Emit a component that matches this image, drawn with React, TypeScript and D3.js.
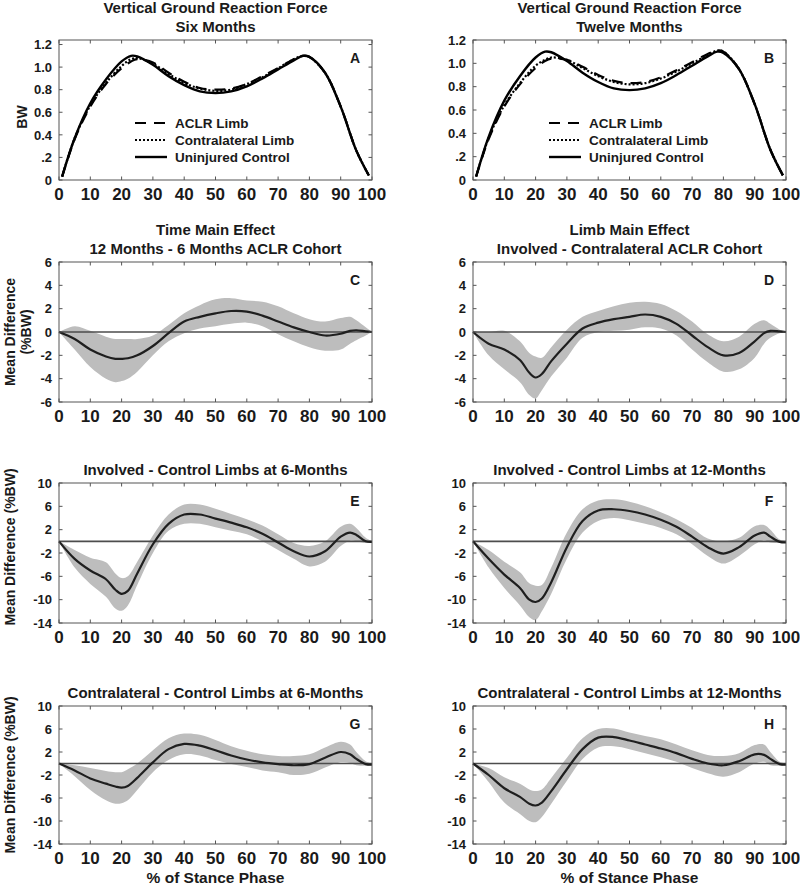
import React from 'react';
import * as d3 from 'd3';

const FONT = '"Liberation Sans", Arial, Helvetica, sans-serif';
const INK = '#1a1a1a';
const BOX = '#555555';

// ---- vertical GRF (BW), sampled along % of stance ----
const grfStance = [1, 5, 10, 15, 20, 23, 25, 30, 35, 40, 45, 50, 55, 60, 65, 70, 75, 78, 80, 85, 90, 95, 99];

const grfSixAclr = [0.03, 0.36, 0.65, 0.85, 0.99, 1.05, 1.07, 1.04, 0.95, 0.87, 0.815, 0.8, 0.81, 0.85, 0.92, 0.99, 1.07, 1.1, 1.09, 0.95, 0.65, 0.26, 0.04];
const grfSixContra = [0.03, 0.37, 0.66, 0.86, 1.01, 1.07, 1.08, 1.03, 0.94, 0.86, 0.81, 0.79, 0.8, 0.85, 0.91, 0.99, 1.07, 1.1, 1.09, 0.95, 0.65, 0.26, 0.04];
const grfSixControl = [0.03, 0.37, 0.68, 0.89, 1.05, 1.1, 1.095, 1.02, 0.92, 0.84, 0.785, 0.77, 0.785, 0.83, 0.9, 0.98, 1.06, 1.1, 1.09, 0.95, 0.65, 0.26, 0.04];

const grfTwelveAclr = [0.03, 0.35, 0.63, 0.82, 0.96, 1.02, 1.04, 1.03, 0.97, 0.9, 0.85, 0.83, 0.84, 0.88, 0.94, 1.01, 1.08, 1.11, 1.1, 0.95, 0.65, 0.26, 0.04];
const grfTwelveContra = [0.03, 0.36, 0.64, 0.83, 0.98, 1.03, 1.05, 1.03, 0.96, 0.89, 0.84, 0.82, 0.83, 0.87, 0.93, 1.0, 1.07, 1.11, 1.1, 0.95, 0.65, 0.26, 0.04];
const grfTwelveControl = [0.03, 0.37, 0.68, 0.89, 1.05, 1.1, 1.095, 1.02, 0.92, 0.84, 0.785, 0.77, 0.785, 0.83, 0.9, 0.98, 1.06, 1.1, 1.09, 0.95, 0.65, 0.26, 0.04];

// ---- mean differences (%BW) with confidence bands ----
const diffStance = [0, 5, 10, 15, 18, 20, 22, 25, 30, 35, 40, 45, 50, 55, 60, 65, 70, 75, 80, 85, 90, 93, 95, 98, 100];

const timeMean = [0, -0.6, -1.5, -2.1, -2.3, -2.3, -2.25, -2.0, -1.2, -0.1, 0.9, 1.3, 1.6, 1.8, 1.75, 1.4, 0.9, 0.4, 0.0, -0.3, -0.15, 0.1, 0.15, 0.05, 0];
const timeUpper = [0, 0.5, 0.1, -0.4, -0.6, -0.6, -0.6, -0.6, -0.3, 0.6, 1.6, 2.3, 2.8, 2.9, 2.7, 2.6, 2.2, 1.6, 1.1, 0.9, 1.2, 1.3, 1.0, 0.4, 0];
const timeLower = [0, -1.5, -3.0, -4.0, -4.3, -4.2, -4.0, -3.4, -2.0, -0.8, -0.1, 0.3, 0.5, 0.7, 0.8, 0.5, -0.2, -0.8, -1.3, -1.6, -1.5, -1.0, -0.7, -0.3, 0];

const limbMean = [0, -1.0, -1.5, -2.4, -3.5, -3.9, -3.6, -2.5, -1.0, 0.3, 0.8, 1.1, 1.3, 1.5, 1.3, 0.7, -0.3, -1.3, -2.0, -1.8, -0.8, -0.1, 0.1, 0.05, 0];
const limbUpper = [0, 0, 0.1, -0.8, -1.8, -2.1, -2.2, -1.3, 0.2, 1.3, 1.8, 2.2, 2.5, 2.6, 2.4, 1.8, 0.9, -0.2, -0.8, -0.4, 0.7, 1.0, 0.7, 0.2, 0];
const limbLower = [0, -2.0, -3.2, -4.3, -5.4, -5.7, -5.0, -3.8, -2.2, -0.5, 0.0, 0.1, 0.2, 0.4, 0.3, -0.3, -1.5, -2.6, -3.4, -3.2, -2.2, -1.0, -0.5, -0.1, 0];

const invSixMean = [0, -3.0, -5.0, -6.5, -8.3, -9.0, -8.5, -5.5, -0.5, 3.0, 4.6, 4.6, 3.9, 3.2, 2.4, 1.3, -0.2, -1.7, -2.6, -1.7, 0.8, 1.5, 1.1, 0.0, -0.1];
const invSixUpper = [0, -1.5, -2.8, -3.6, -5.5, -6.3, -6.0, -3.5, 1.0, 4.6, 6.3, 6.3, 5.6, 4.7, 3.8, 2.7, 1.2, -0.3, -0.8, 0.0, 2.5, 3.0, 2.3, 0.6, 0];
const invSixLower = [0, -4.5, -7.3, -9.5, -11.5, -11.9, -11.0, -7.5, -2.0, 1.8, 3.0, 3.0, 2.4, 1.8, 1.2, 0.0, -1.5, -3.0, -4.3, -3.5, -0.8, 0.1, 0.0, -0.3, -0.2];

const invTwelveMean = [0, -3.0, -5.7, -8.0, -10.0, -10.4, -9.8, -7.0, -1.0, 3.5, 5.3, 5.5, 5.2, 4.6, 3.7, 2.5, 0.8, -1.0, -2.1, -1.0, 1.0, 1.5, 0.8, -0.1, -0.2];
const invTwelveUpper = [0, -1.5, -3.5, -5.3, -7.2, -7.6, -7.5, -4.5, 1.5, 5.5, 7.0, 7.2, 6.8, 6.0, 5.0, 3.8, 2.3, 0.5, 0.0, 0.6, 2.6, 2.8, 2.0, 0.3, 0];
const invTwelveLower = [0, -4.5, -8.0, -11.0, -13.0, -13.5, -12.0, -9.0, -3.0, 1.5, 3.5, 4.0, 3.6, 3.0, 2.3, 1.2, -0.5, -2.5, -3.8, -2.5, -0.5, 0.2, -0.2, -0.3, -0.3];

const conSixMean = [0, -1.2, -2.6, -3.5, -4.0, -4.2, -3.9, -2.5, 0.2, 2.5, 3.4, 3.1, 2.3, 1.4, 0.7, 0.2, -0.1, -0.3, -0.1, 1.0, 2.0, 1.6, 0.8, -0.1, -0.2];
const conSixUpper = [0, -0.3, -0.8, -1.3, -1.5, -1.5, -1.0, 0.0, 2.3, 4.4, 5.2, 5.0, 4.1, 3.0, 2.2, 1.6, 1.3, 1.3, 1.6, 2.8, 3.8, 3.3, 2.0, 0.4, 0];
const conSixLower = [0, -2.2, -4.6, -6.4, -7.0, -6.9, -6.4, -4.6, -1.5, 0.6, 1.6, 1.4, 0.6, -0.1, -0.6, -1.2, -1.5, -2.0, -1.8, -0.7, 0.2, 0.1, -0.3, -0.4, -0.3];

const conTwelveMean = [0, -2.0, -4.3, -5.8, -7.0, -7.3, -6.8, -4.8, -1.0, 2.5, 4.5, 4.6, 4.0, 3.3, 2.6, 1.8, 0.8, 0.0, -0.3, 0.4, 1.6, 1.5, 0.8, -0.1, -0.2];
const conTwelveUpper = [0, -0.8, -2.4, -3.5, -4.5, -4.8, -4.5, -2.5, 1.0, 4.4, 6.0, 6.1, 5.4, 4.8, 4.2, 3.3, 2.3, 1.5, 1.3, 1.8, 3.2, 3.3, 2.0, 0.3, 0];
const conTwelveLower = [0, -3.2, -6.8, -8.8, -10.0, -10.2, -9.3, -7.0, -3.0, 0.8, 2.8, 3.0, 2.5, 1.8, 1.1, 0.3, -0.8, -1.7, -2.3, -1.5, 0.0, 0.3, -0.3, -0.4, -0.3];

// ---- ticks ----
const stanceTicks = [0, 10, 20, 30, 40, 50, 60, 70, 80, 90, 100];
const grfTicks = [0, 0.2, 0.4, 0.6, 0.8, 1.0, 1.2];
const grfTickLabels = ['0', '.2', '0.4', '0.6', '0.8', '1.0', '1.2'];
const mainEffectTicks = [-6, -4, -2, 0, 2, 4, 6];
const limbDiffTicks = [-14, -10, -6, -2, 2, 6, 10];

const legendNames = ['ACLR Limb', 'Contralateral Limb', 'Uninjured Control'];

const columns = [
  { left: 59, right: 372 },
  { left: 473, right: 786 },
];
const rows = [
  { top: 40, bottom: 180 },
  { top: 262, bottom: 402 },
  { top: 483, bottom: 623 },
  { top: 706, bottom: 844 },
];

type Frame = { left: number; right: number; top: number; bottom: number };

const smooth = d3.curveCatmullRom.alpha(0.5);

const Axes = ({ f, x, y, yTicks, yTickLabels, letter, title, xLabel }: any) => {
  const tick = 3.5;
  return (
    <g>
      <rect x={f.left} y={f.top} width={f.right - f.left} height={f.bottom - f.top}
        fill="none" stroke={BOX} strokeWidth={1} />
      {stanceTicks.map((t) => (
        <g key={'x' + t}>
          <line x1={x(t)} x2={x(t)} y1={f.bottom} y2={f.bottom - tick} stroke={BOX} />
          <line x1={x(t)} x2={x(t)} y1={f.top} y2={f.top + tick} stroke={BOX} />
          <text x={x(t)} y={f.bottom + 20} textAnchor="middle" fontSize={17} fontWeight="bold" fill={INK}>{t}</text>
        </g>
      ))}
      {yTicks.map((t: number, i: number) => (
        <g key={'y' + t}>
          <line x1={f.left} x2={f.left + tick} y1={y(t)} y2={y(t)} stroke={BOX} />
          <line x1={f.right} x2={f.right - tick} y1={y(t)} y2={y(t)} stroke={BOX} />
          <text x={f.left - 7} y={y(t)} dy="0.36em" textAnchor="end" fontSize={13} fontWeight="bold" fill={INK}>
            {yTickLabels ? yTickLabels[i] : t}
          </text>
        </g>
      ))}
      <text x={f.right - 17} y={f.top + 23} textAnchor="middle" fontSize={14} fontWeight="bold" fill={INK}>{letter}</text>
      {title.map((line: string, i: number) => (
        <text key={line} x={(f.left + f.right) / 2} y={f.top - 8 - (title.length - 1 - i) * 19}
          textAnchor="middle" fontSize={15} fontWeight="bold" fill={INK}>{line}</text>
      ))}
      {xLabel && (
        <text x={(f.left + f.right) / 2} y={f.bottom + 39} textAnchor="middle" fontSize={15.5} fontWeight="bold" fill={INK}>
          {xLabel}
        </text>
      )}
    </g>
  );
};

const YLabel = ({ lines, x, cy }: { lines: string[]; x: number[]; cy: number }) => (
  <g>
    {lines.map((l, i) => (
      <text key={l} transform={`translate(${x[i]},${cy}) rotate(-90)`} textAnchor="middle"
        fontSize={14} fontWeight="bold" fill={INK}>{l}</text>
    ))}
  </g>
);

const GrfPanel = ({ f, yMax, letter, title, aclr, contra, control, yLabel }: any) => {
  const x = d3.scaleLinear().domain([0, 100]).range([f.left, f.right]);
  const y = d3.scaleLinear().domain([0, yMax]).range([f.bottom, f.top]);
  const line = d3.line<number>()
    .x((_, i) => x(grfStance[i]))
    .y((d) => y(d))
    .curve(smooth);
  const styles = [
    { dash: '11,8', width: 2.2 },
    { dash: '2,2', width: 2.2 },
    { dash: undefined, width: 2.4 },
  ];
  const series = [aclr, contra, control];
  return (
    <g>
      {series.map((s, k) => (
        <path key={k} d={line(s) || ''} fill="none" stroke="#000" strokeWidth={styles[k].width}
          strokeDasharray={styles[k].dash} />
      ))}
      {legendNames.map((name, k) => {
        const ly = f.top + 83 + k * 17;
        return (
          <g key={name}>
            <line x1={f.left + 76} x2={f.left + 108} y1={ly} y2={ly} stroke="#000"
              strokeWidth={styles[k].width} strokeDasharray={styles[k].dash} />
            <text x={f.left + 116} y={ly} dy="0.36em" fontSize={13.5} fontWeight="bold" fill={INK}>{name}</text>
          </g>
        );
      })}
      <Axes f={f} x={x} y={y} yTicks={grfTicks} yTickLabels={grfTickLabels} letter={letter} title={title} />
      {yLabel && <YLabel lines={[yLabel]} x={[f.left - 32]} cy={117} />}
    </g>
  );
};

const DiffPanel = ({ f, domain, ticks, letter, title, mean, upper, lower, xLabel }: any) => {
  const x = d3.scaleLinear().domain([0, 100]).range([f.left, f.right]);
  const y = d3.scaleLinear().domain(domain).range([f.bottom, f.top]);
  const band = d3.area<number>()
    .x((_, i) => x(diffStance[i]))
    .y0((_, i) => y(lower[i]))
    .y1((_, i) => y(upper[i]))
    .curve(smooth);
  const line = d3.line<number>()
    .x((_, i) => x(diffStance[i]))
    .y((d) => y(d))
    .curve(smooth);
  return (
    <g>
      <path d={band(mean) || ''} fill="#bdbdbd" stroke="none" />
      <line x1={f.left} x2={f.right} y1={y(0)} y2={y(0)} stroke="#4d4d4d" strokeWidth={1.6} />
      <path d={line(mean) || ''} fill="none" stroke="#1f1f1f" strokeWidth={2.2} />
      <Axes f={f} x={x} y={y} yTicks={ticks} letter={letter} title={title} xLabel={xLabel} />
    </g>
  );
};

const frame = (c: number, r: number): Frame => ({ ...columns[c], ...rows[r] });

const diffPanels = [
  { c: 0, r: 1, letter: 'C', title: ['Time Main Effect', '12 Months - 6 Months ACLR Cohort'], domain: [-6, 6], ticks: mainEffectTicks, mean: timeMean, upper: timeUpper, lower: timeLower },
  { c: 1, r: 1, letter: 'D', title: ['Limb Main Effect', 'Involved - Contralateral ACLR Cohort'], domain: [-6, 6], ticks: mainEffectTicks, mean: limbMean, upper: limbUpper, lower: limbLower },
  { c: 0, r: 2, letter: 'E', title: ['Involved - Control Limbs at 6-Months'], domain: [-14, 10], ticks: limbDiffTicks, mean: invSixMean, upper: invSixUpper, lower: invSixLower },
  { c: 1, r: 2, letter: 'F', title: ['Involved - Control Limbs at 12-Months'], domain: [-14, 10], ticks: limbDiffTicks, mean: invTwelveMean, upper: invTwelveUpper, lower: invTwelveLower },
  { c: 0, r: 3, letter: 'G', title: ['Contralateral - Control Limbs at 6-Months'], domain: [-14, 10], ticks: limbDiffTicks, mean: conSixMean, upper: conSixUpper, lower: conSixLower, xLabel: '% of Stance Phase' },
  { c: 1, r: 3, letter: 'H', title: ['Contralateral - Control Limbs at 12-Months'], domain: [-14, 10], ticks: limbDiffTicks, mean: conTwelveMean, upper: conTwelveUpper, lower: conTwelveLower, xLabel: '% of Stance Phase' },
];

export default function App() {
  return (
    <svg width={800} height={889} style={{ position: 'absolute', left: 0, top: 0, background: '#fff' }}
      fontFamily={FONT}>
      <rect width={800} height={889} fill="#fff" />
      <GrfPanel f={frame(0, 0)} yMax={1.24} letter="A" title={['Vertical Ground Reaction Force', 'Six Months']}
        aclr={grfSixAclr} contra={grfSixContra} control={grfSixControl} yLabel="BW" />
      <GrfPanel f={frame(1, 0)} yMax={1.2} letter="B" title={['Vertical Ground Reaction Force', 'Twelve Months']}
        aclr={grfTwelveAclr} contra={grfTwelveContra} control={grfTwelveControl} />
      {diffPanels.map((p) => (
        <DiffPanel key={p.letter} f={frame(p.c, p.r)} {...p} />
      ))}
      <YLabel lines={['Mean Difference', '(%BW)']} x={[15, 31]} cy={332} />
      <YLabel lines={['Mean Difference (%BW)']} x={[15]} cy={547} />
      <YLabel lines={['Mean Difference (%BW)']} x={[15]} cy={775} />
    </svg>
  );
}
